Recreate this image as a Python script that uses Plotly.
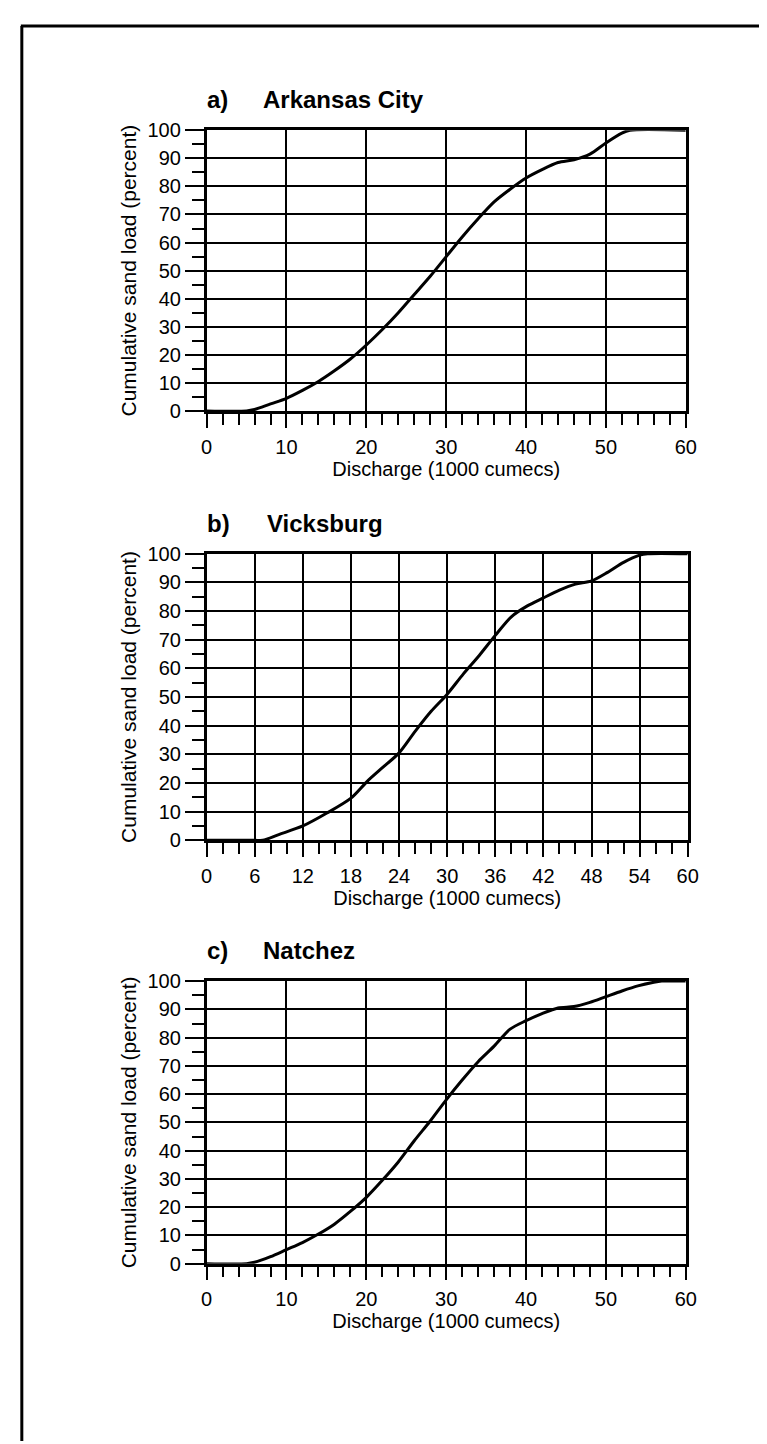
import plotly.graph_objects as go

# ---- data ----
titles_letter = ["a)", "b)", "c)"]
titles_site = ["Arkansas City", "Vicksburg", "Natchez"]

a_discharge = [0, 5, 6, 8, 10, 12, 14, 16, 18, 20, 22, 24, 26, 28, 30, 32, 34, 36, 38, 40, 42, 44, 46, 48, 50, 52, 53, 60]
a_cumload = [0, 0, 0.5, 2.5, 4.5, 7.3, 10.5, 14.3, 18.5, 23.5, 29, 35, 41.5, 48, 55, 62, 68.5, 74.5, 79, 83, 86, 88.5, 89.5, 91.5, 95.5, 99, 100, 100]

b_discharge = [0, 6, 7, 9, 12, 15, 18, 20, 22, 24, 26, 28, 30, 32, 34, 36, 38, 40, 42, 44, 46, 48, 50, 52, 54, 55, 60]
b_cumload = [0, 0, 0, 2, 5, 9.5, 14.7, 20.5, 25.5, 30.5, 38, 45, 51, 58, 64.5, 71.5, 78, 81.8, 84.6, 87.3, 89.4, 90.5, 93.5, 97, 99.5, 100, 100]

c_discharge = [0, 5, 6, 8, 10, 12, 14, 16, 18, 20, 22, 24, 26, 28, 30, 32, 34, 36, 38, 40, 42, 44, 46, 48, 50, 52, 54, 56, 57, 60]
c_cumload = [0, 0, 0.5, 2.5, 5, 7.5, 10.5, 14, 18.5, 23.5, 29.5, 36, 43.5, 50.5, 58, 65, 71.5, 77, 83, 86, 88.5, 90.5, 91, 92.5, 94.5, 96.5, 98.3, 99.6, 100, 100]

x_major = [10, 6, 10]
x_minor = [2, 2, 2]
y_ticks = [0, 10, 20, 30, 40, 50, 60, 70, 80, 90, 100]

x_title = "Discharge (1000 cumecs)"
y_title = "Cumulative sand load (percent)"

W, H = 767, 1444
FONT = "Liberation Sans, Arial, Helvetica, sans-serif"

# panel pixel boxes (left, right, top, bottom)
panels = [
    (197, 687, 113, 398),
    (197, 689, 543, 834),
    (197, 687, 977, 1264),
]
site_x = [253, 257, 253]
series = [(a_discharge, a_cumload), (b_discharge, b_cumload), (c_discharge, c_cumload)]

fig = go.Figure()
annotations = []
for i, ((l, r, t, b), (xs, ys)) in enumerate(zip(panels, series)):
    n = "" if i == 0 else str(i + 1)
    xa = "x" + n
    ya = "y" + n
    fig.add_trace(go.Scatter(
        x=xs, y=ys, mode="lines", xaxis=xa, yaxis=ya,
        line=dict(color="black", width=3, shape="spline", smoothing=0.8),
        showlegend=False, hoverinfo="skip",
    ))
    dom_x = [l / W, r / W]
    dom_y = [1 - b / H, 1 - t / H]
    fig.layout["xaxis" + n] = dict(
        domain=dom_x, range=[0, 60], anchor=ya,
        tickmode="linear", tick0=0, dtick=x_major[i],
        ticks="outside", ticklen=14, tickwidth=2.2, tickcolor="black",
        minor=dict(tickmode="linear", tick0=0, dtick=x_minor[i], ticks="outside",
                   ticklen=11, tickwidth=2.2, tickcolor="black", showgrid=False),
        showgrid=True, gridcolor="black", gridwidth=2,
        showline=True, linecolor="black", linewidth=2.5, mirror=True,
        zeroline=False,
        ticklabelstandoff=2,
        tickfont=dict(family=FONT, size=20, color="black"),
        title=dict(text=x_title, font=dict(family=FONT, size=20, color="black"), standoff=2),
        fixedrange=True,
    )
    fig.layout["yaxis" + n] = dict(
        domain=dom_y, range=[0, 100], anchor=xa,
        tickmode="array", tickvals=y_ticks, ticktext=[str(v) for v in y_ticks],
        ticks="outside", ticklen=19, tickwidth=2.2, tickcolor="black",
        minor=dict(tickmode="linear", tick0=5, dtick=10, ticks="outside",
                   ticklen=12, tickwidth=2.2, tickcolor="black", showgrid=False),
        showgrid=True, gridcolor="black", gridwidth=2,
        showline=True, linecolor="black", linewidth=2.5, mirror=True,
        zeroline=False,
        tickfont=dict(family=FONT, size=20, color="black"),
        title=dict(text=y_title, font=dict(family=FONT, size=21, color="black"), standoff=6),
        fixedrange=True,
    )
    ty = 1 - (t - 31) / H
    annotations.append(dict(text="<b>" + titles_letter[i] + "</b>", x=195 / W, y=ty,
                            xref="paper", yref="paper", xanchor="left", yanchor="middle",
                            showarrow=False, font=dict(family=FONT, size=24, color="black")))
    annotations.append(dict(text="<b>" + titles_site[i] + "</b>", x=site_x[i] / W, y=ty,
                            xref="paper", yref="paper", xanchor="left", yanchor="middle",
                            showarrow=False, font=dict(family=FONT, size=24, color="black")))

shapes = [
    dict(type="line", xref="paper", yref="paper", x0=7 / W, x1=1, y0=1 - 7 / H, y1=1 - 7 / H,
         line=dict(color="black", width=3)),
    dict(type="line", xref="paper", yref="paper", x0=8 / W, x1=8 / W, y0=0, y1=1 - 7 / H,
         line=dict(color="black", width=3)),
]

fig.update_layout(
    width=W, height=H, autosize=False,
    margin=dict(l=0, r=0, t=0, b=0),
    paper_bgcolor="white", plot_bgcolor="white",
    annotations=annotations, shapes=shapes,
    font=dict(family=FONT, color="black"),
)

fig.write_html("out.html")
